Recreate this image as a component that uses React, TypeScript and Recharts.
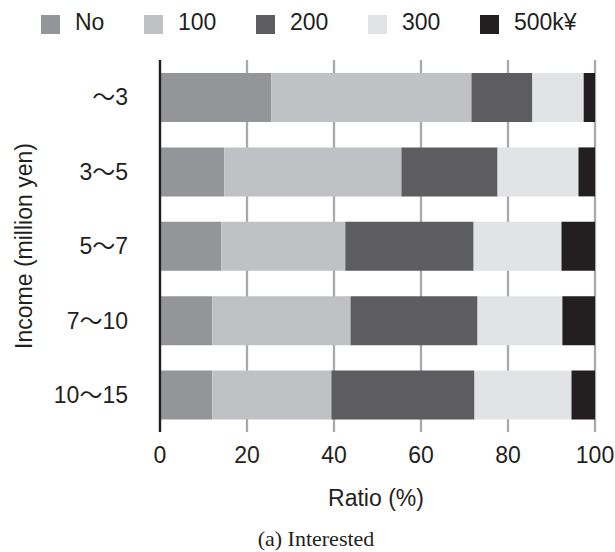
import React from 'react';
import { BarChart, Bar, XAxis, YAxis, CartesianGrid } from 'recharts';

// Share of respondents (%) by planned spending, for each income band
const incomeBands = ['〜3', '3〜5', '5〜7', '7〜10', '10〜15'];
const seriesKeys = ['none', 'y100', 'y200', 'y300', 'y500'];
const seriesNames = ['No', '100', '200', '300', '500k¥'];
const seriesColors = ['#939598', '#c0c1c4', '#5d5d5f', '#e2e3e5', '#231f20'];

const noneValues = [25.6, 14.8, 14.1, 12.0, 12.0];
const y100Values = [46.0, 40.7, 28.5, 31.8, 27.4];
const y200Values = [14.0, 22.1, 29.5, 29.2, 32.9];
const y300Values = [11.8, 18.6, 20.2, 19.5, 22.3];
const y500Values = [2.6, 3.8, 7.7, 7.5, 5.4];

const ratioTicks = [0, 20, 40, 60, 80, 100];

const seriesValues = [noneValues, y100Values, y200Values, y300Values, y500Values];

const rows = incomeBands.map((band, i) => {
  const row: Record<string, string | number> = { band };
  seriesKeys.forEach((k, s) => {
    row[k] = seriesValues[s][i];
  });
  return row;
});

const SANS = '"Liberation Sans", Arial, Helvetica, "Noto Sans CJK JP", sans-serif';
const SERIF = '"Liberation Serif", "Times New Roman", serif';
const INK = '#231f20';

export default function App() {
  return (
    <div
      style={{
        position: 'absolute',
        left: 0,
        top: 0,
        width: 615,
        height: 552,
        background: '#ffffff',
        overflow: 'hidden',
      }}
    >
      <BarChart
        width={615}
        height={552}
        layout="vertical"
        data={rows}
        margin={{ top: 60, right: 20, bottom: 90, left: 0 }}
        barSize={49}
      >
        <CartesianGrid horizontal={false} stroke="#a7a9ac" strokeWidth={2.3} />
        <XAxis
          type="number"
          domain={[0, 100]}
          ticks={ratioTicks}
          interval={0}
          axisLine={false}
          tickLine={false}
          tickSize={0}
          tickMargin={14.7}
          height={30}
          tick={{ fontSize: 23, fill: INK, fontFamily: SANS }}
        />
        <YAxis
          type="category"
          dataKey="band"
          width={160}
          axisLine={{ stroke: INK, strokeWidth: 2.3 }}
          tickLine={false}
          tickSize={0}
          tickMargin={32}
          interval={0}
          tick={{ fontSize: 23, fill: INK, fontFamily: SANS }}
        />
        {seriesKeys.map((k, s) => (
          <Bar
            key={k}
            dataKey={k}
            name={seriesNames[s]}
            stackId="share"
            fill={seriesColors[s]}
            isAnimationActive={false}
          />
        ))}
      </BarChart>

      {/* legend */}
      <div
        style={{
          position: 'absolute',
          left: 41,
          top: 0,
          display: 'flex',
          alignItems: 'flex-start',
          fontFamily: SANS,
          color: INK,
        }}
      >
        {seriesNames.map((name, s) => (
          <div key={name} style={{ display: 'flex', alignItems: 'flex-start', marginRight: 39.6 }}>
            <div style={{ width: 19, height: 19, marginTop: 15, background: seriesColors[s] }} />
            <div style={{ marginLeft: 15, marginTop: 10.5, fontSize: 23, lineHeight: '23px', whiteSpace: 'nowrap' }}>
              {name}
            </div>
          </div>
        ))}
      </div>

      {/* axis titles and caption */}
      <svg
        width={615}
        height={552}
        style={{ position: 'absolute', left: 0, top: 0, pointerEvents: 'none' }}
      >
        <text x={376} y={506} textAnchor="middle" fontSize={23} fontFamily={SANS} fill={INK}>
          Ratio (%)
        </text>
        <text
          transform="translate(31.5, 246) rotate(-90)"
          textAnchor="middle"
          fontSize={23}
          fontFamily={SANS}
          fill={INK}
        >
          Income (million yen)
        </text>
        <text x={316} y={546} textAnchor="middle" fontSize={22} fontFamily={SERIF} fill={INK}>
          (a) Interested
        </text>
      </svg>
    </div>
  );
}
